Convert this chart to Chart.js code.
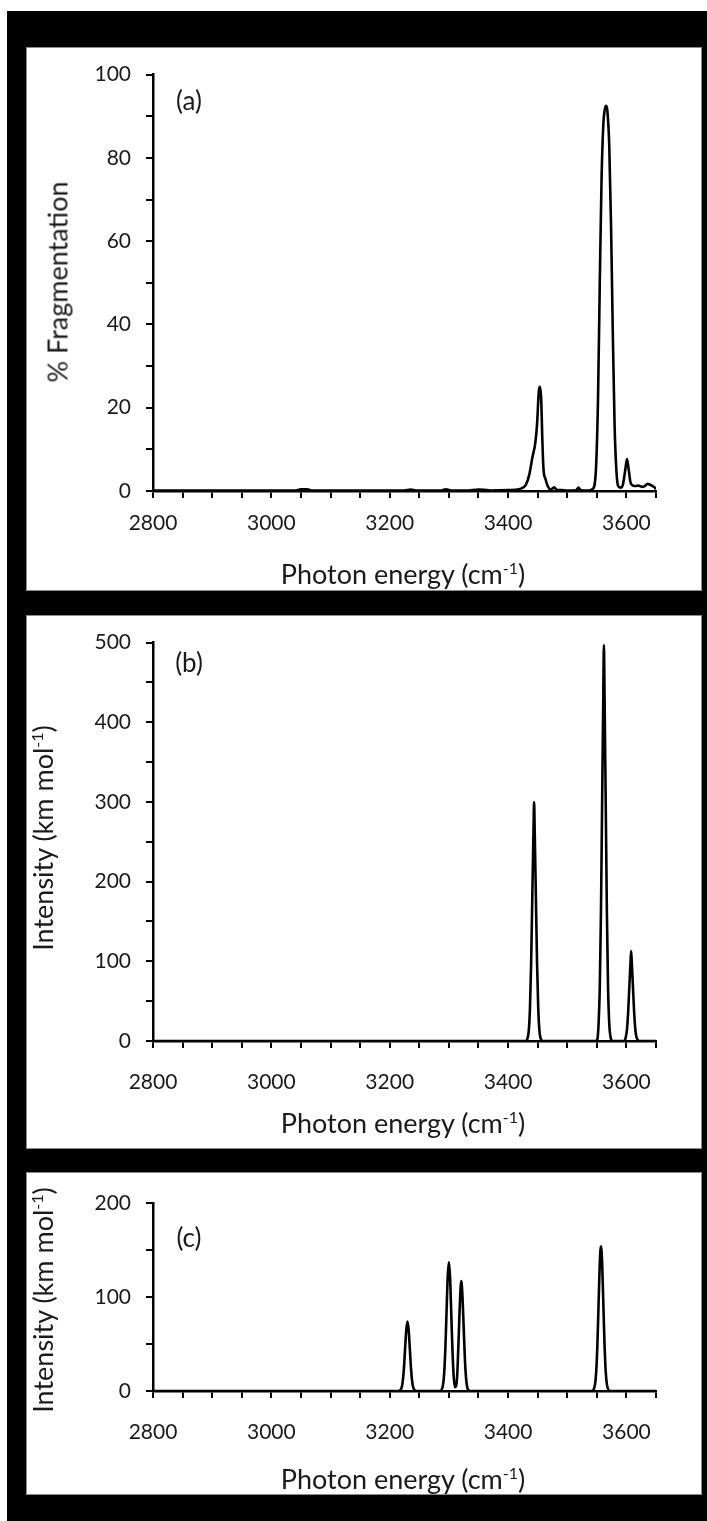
<!DOCTYPE html>
<html>
<head>
<meta charset="utf-8">
<script src="https://cdn.jsdelivr.net/npm/chart.js@4.4.1/dist/chart.umd.min.js"></script>
<style>
  html, body { margin: 0; padding: 0; background: #fff; }
  body { width: 707px; height: 1521px; position: relative; overflow: hidden; }
  #frame { position: absolute; left: 7px; top: 11px; width: 700px; height: 1510px; background: #000; }
  .panel { position: absolute; left: 26px; width: 676px; background: #fff; box-shadow: inset 0 0 0 1px #8a8a8a; }
  .panel canvas { position: absolute; left: 0; top: 0; }
  .txt { position: absolute; font-family: Lato, sans-serif; color: #1a1a1a; white-space: nowrap; transform: translate(-50%, -50%); font-size: 27px; line-height: 1; }
  .txt.rot { transform: translate(-50%, -50%) rotate(-90deg); }
  .txt sup { font-size: 16px; vertical-align: 10px; line-height: 0; }
  .tag { font-size: 26px; }
</style>
</head>
<body>
<div id="frame"></div>
<div class="panel" style="top:47px;height:544px"><canvas id="chartA" width="676" height="544"></canvas></div>
<div class="panel" style="top:615px;height:534px"><canvas id="chartB" width="676" height="534"></canvas></div>
<div class="panel" style="top:1172px;height:323px"><canvas id="chartC" width="676" height="323"></canvas></div>

<div class="txt rot" style="left:57px;top:282px">% Fragmentation</div>
<div class="txt" style="left:403px;top:573px">Photon energy (cm<sup>-1</sup>)</div>
<div class="txt tag" style="left:189px;top:100px">(a)</div>

<div class="txt rot" style="left:42px;top:838px">Intensity (km mol<sup>-1</sup>)</div>
<div class="txt" style="left:403px;top:1122px">Photon energy (cm<sup>-1</sup>)</div>
<div class="txt tag" style="left:189px;top:662px">(b)</div>

<div class="txt rot" style="left:42px;top:1300px">Intensity (km mol<sup>-1</sup>)</div>
<div class="txt" style="left:403px;top:1478px">Photon energy (cm<sup>-1</sup>)</div>
<div class="txt tag" style="left:189px;top:1237px">(c)</div>

<script>
// (a) measured fragmentation spectrum
const fragX = [2800, 2850, 2900, 2950, 3000, 3040, 3050, 3060, 3070, 3120, 3180, 3225, 3235, 3245,
  3285, 3295, 3305, 3330, 3350, 3360, 3370, 3400, 3420, 3430, 3436, 3441, 3446, 3449, 3452, 3454,
  3456, 3458, 3460, 3463, 3467, 3472, 3478, 3482, 3490, 3500, 3515, 3519, 3523, 3535, 3543, 3548,
  3552, 3555, 3558, 3561, 3564, 3566, 3568, 3571, 3574, 3577, 3580, 3583, 3586, 3590, 3594, 3598,
  3601, 3604, 3607, 3611, 3616, 3620, 3626, 3630, 3636, 3640, 3644, 3648, 3650];
const fragY = [0.1, 0.1, 0.1, 0.1, 0.1, 0.1, 0.4, 0.4, 0.1, 0.1, 0.1, 0.1, 0.35, 0.1,
  0.1, 0.4, 0.1, 0.1, 0.35, 0.3, 0.1, 0.2, 0.5, 1.5, 4, 8, 11.5, 16, 24, 25,
  22, 12, 5, 3, 1.2, 0.3, 0.9, 0.3, 0.2, 0.1, 0.2, 0.8, 0.2, 0.1, 0.5, 4,
  22, 50, 75, 88, 92, 92.5, 91, 83, 64, 38, 16, 5, 1.2, 0.8, 1.5, 5,
  7.7, 5, 2, 1.3, 1.2, 1.3, 1, 1.1, 1.7, 1.5, 1.2, 0.8, 0.4];

// (b) calculated spectrum
const calcBX = [2800, 3430, 3432, 3435, 3437, 3439, 3441, 3443, 3444, 3445, 3447, 3449, 3451, 3453, 3456, 3459,
  3548, 3551, 3553, 3555, 3557, 3559, 3561, 3562, 3563, 3565, 3567, 3569, 3571, 3574, 3577,
  3594, 3597, 3599, 3601, 3603, 3605, 3607, 3608, 3609, 3611, 3613, 3615, 3617, 3620, 3623, 3650];
const calcBY = [0, 0, 1.5, 13, 41, 98, 182, 265, 300, 265, 182, 98, 41, 13, 1.5, 0,
  0, 2.5, 22, 67, 162, 302, 438, 497, 438, 302, 162, 67, 22, 2.5, 0,
  0, 0.6, 5, 15, 37, 69, 100, 113, 100, 69, 37, 15, 5, 0.6, 0, 0];

// (c) calculated spectrum
const calcCX = [2800, 3215, 3217, 3220, 3222, 3224, 3226, 3228, 3230, 3232, 3234, 3236, 3238, 3240, 3243, 3246,
  3285, 3287, 3290, 3292, 3294, 3296, 3298, 3300, 3302, 3304, 3306, 3308, 3310, 3312, 3314, 3315, 3317, 3319,
  3321, 3323, 3325, 3327, 3329, 3331, 3334, 3337,
  3542, 3544, 3547, 3549, 3551, 3553, 3555, 3557, 3559, 3561, 3563, 3565, 3567, 3570, 3573, 3650];
const calcCY = [0, 0, 0.4, 3.3, 10, 24, 45, 65, 74, 65, 45, 24, 10, 3.3, 0.4, 0,
  0, 0.7, 6, 18.5, 44.5, 83, 121, 137, 121, 83, 44, 17, 4, 5, 16, 30, 65, 100,
  117, 100, 68, 35, 14, 4, 0.5, 0,
  0, 0.8, 7, 21, 50, 93, 136, 154, 136, 93, 50, 21, 7, 0.8, 0, 0];

const xLabels = [2800, 3000, 3200, 3400, 3600];
const yLabelsA = [0, 20, 40, 60, 80, 100];
const yLabelsB = [0, 100, 200, 300, 400, 500];
const yLabelsC = [0, 100, 200];

const tickFont = { family: 'Lato', size: 21 };

function makeChart(id, xs, ys, yMax, yStep, yLabels, top, xHeight, xPad) {
  const canvas = document.getElementById(id);
  return new Chart(canvas, {
    type: 'line',
    data: {
      datasets: [{
        data: xs.map((x, i) => ({ x: x, y: ys[i] })),
        borderColor: '#000',
        borderWidth: 2.6,
        pointRadius: 0,
        cubicInterpolationMode: 'monotone',
        fill: false
      }]
    },
    options: {
      responsive: false,
      animation: false,
      layout: { padding: { left: 0, top: top, right: 46, bottom: 0 } },
      plugins: { legend: { display: false }, tooltip: { enabled: false } },
      scales: {
        x: {
          type: 'linear', min: 2800, max: 3650,
          ticks: {
            stepSize: 50, autoSkip: false, maxRotation: 0, padding: xPad,
            color: '#1a1a1a', font: tickFont,
            callback: v => xLabels.includes(v) ? String(v) : ''
          },
          grid: { drawOnChartArea: false, drawTicks: true, tickLength: 7, lineWidth: 2, tickWidth: 2, tickColor: '#000' },
          border: { color: '#000', width: 2.5 },
          afterFit: s => { s.height = xHeight; }
        },
        y: {
          type: 'linear', min: 0, max: yMax,
          ticks: {
            stepSize: yStep, autoSkip: false, padding: 15,
            color: '#1a1a1a', font: tickFont,
            callback: v => yLabels.includes(v) ? String(v) : ''
          },
          grid: { drawOnChartArea: false, drawTicks: true, tickLength: 7, lineWidth: 2, tickWidth: 2, tickColor: '#000' },
          border: { color: '#000', width: 2.5 },
          afterFit: s => { s.width = 127; }
        }
      }
    }
  });
}

makeChart('chartA', fragX, fragY, 100, 10, yLabelsA, 26, 100, 13);
makeChart('chartB', calcBX, calcBY, 500, 50, yLabelsB, 20, 108, 22);
makeChart('chartC', calcCX, calcCY, 200, 50, yLabelsC, 31, 104, 22);
</script>
</body>
</html>
